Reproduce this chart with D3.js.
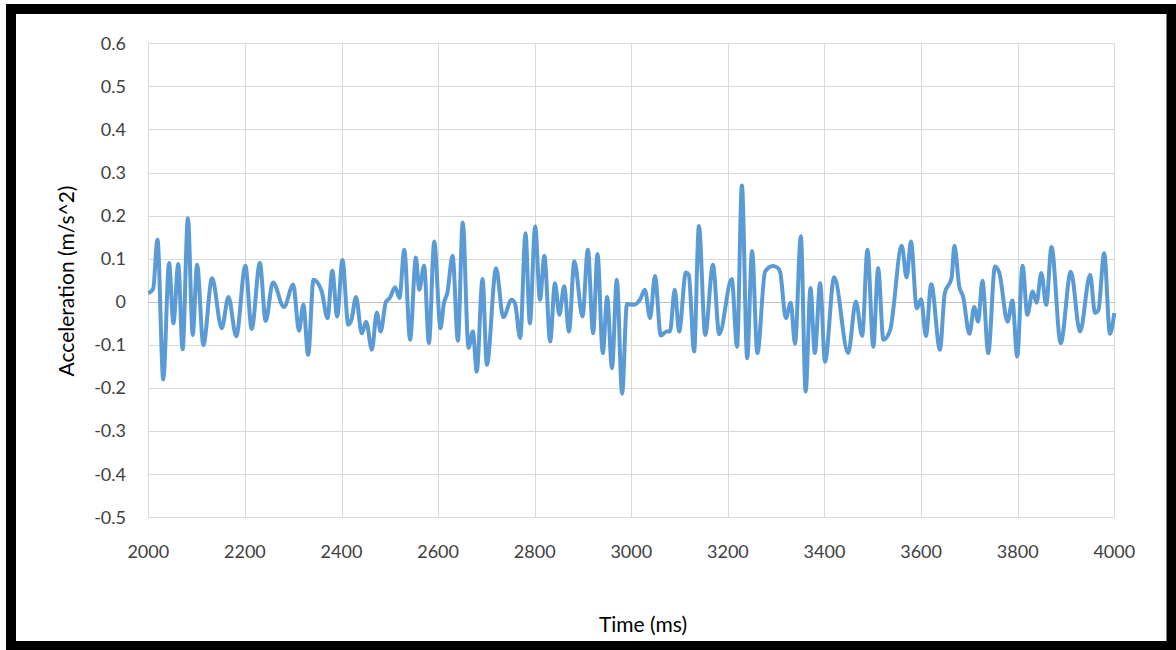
<!DOCTYPE html>
<html>
  <head>
    <meta charset="utf-8">
    <script src="https://d3js.org/d3.v7.min.js"></script>
    <style>
      body { margin: 0; background: #fff; }
      text { font-family: Lato, "Open Sans", sans-serif; fill: #404040; }
    </style>
  </head>
<body>
  <script>
    // time axis (ms) and acceleration (m/s^2)
    var times = [2000, 2010, 2019, 2031, 2043, 2052, 2062, 2071, 2082, 2092, 2101, 2114, 2132, 2152, 2166, 2182, 2201, 2214, 2231, 2243,
      2258, 2281, 2300, 2312, 2321, 2331, 2342, 2359, 2371, 2381, 2391, 2402, 2414, 2421, 2430, 2442, 2451, 2463, 2473, 2481,
      2492, 2500, 2511, 2520, 2530, 2542, 2554, 2561, 2571, 2581, 2592, 2605, 2612, 2619, 2630, 2641, 2651, 2663, 2672, 2680,
      2692, 2701, 2720, 2735, 2752, 2759, 2770, 2781, 2790, 2801, 2811, 2820, 2832, 2842, 2851, 2861, 2871, 2882, 2899, 2910,
      2921, 2930, 2941, 2950, 2960, 2970, 2981, 2991, 3004, 3018, 3028, 3039, 3049, 3061, 3073, 3080, 3090, 3099, 3113, 3119,
      3130, 3140, 3153, 3169, 3182, 3208, 3219, 3229, 3240, 3250, 3261, 3277, 3293, 3302, 3308, 3320, 3330, 3339, 3351, 3361,
      3371, 3380, 3391, 3401, 3420, 3449, 3465, 3478, 3489, 3501, 3511, 3522, 3536, 3560, 3570, 3579, 3591, 3600, 3610, 3621,
      3639, 3649, 3663, 3669, 3679, 3687, 3700, 3710, 3718, 3727, 3739, 3753, 3762, 3779, 3789, 3799, 3810, 3820, 3831, 3839,
      3849, 3859, 3870, 3889, 3910, 3929, 3950, 3960, 3967, 3979, 3991, 4000];
    var accel = [0.02, 0.03, 0.144, -0.18, 0.09, -0.05, 0.088, -0.11, 0.194, -0.077, 0.086, -0.1, 0.055, -0.061, 0.011, -0.08, 0.084, -0.063, 0.09, -0.044,
      0.045, -0.012, 0.04, -0.067, -0.007, -0.123, 0.051, 0.024, -0.038, 0.072, -0.034, 0.097, -0.053, -0.04, 0.011, -0.073, -0.046, -0.111, -0.025, -0.069,
      0.0, 0.009, 0.034, 0.009, 0.121, -0.088, 0.103, 0.028, 0.084, -0.096, 0.14, -0.061, -0.003, 0.02, 0.107, -0.09, 0.184, -0.107, -0.069, -0.162,
      0.053, -0.146, 0.078, -0.036, 0.005, -0.003, -0.084, 0.159, -0.05, 0.175, 0.005, 0.107, -0.092, 0.043, -0.03, 0.036, -0.069, 0.094, -0.034, 0.121,
      -0.073, 0.111, -0.119, 0.011, -0.154, 0.051, -0.213, -0.005, -0.007, 0.005, 0.028, -0.038, 0.06, -0.078, -0.069, -0.069, 0.028, -0.069, 0.068, 0.063,
      -0.115, 0.176, -0.077, 0.086, -0.075, 0.053, -0.104, 0.27, -0.131, 0.118, -0.119, 0.07, 0.083, 0.08, 0.07, -0.038, -0.002, -0.097, 0.152, -0.208,
      0.032, -0.119, 0.043, -0.139, 0.057, -0.119, 0.001, -0.079, 0.121, -0.104, 0.078, -0.088, -0.065, 0.13, 0.057, 0.14, -0.015, 0.006, -0.079, 0.041,
      -0.111, 0.02, 0.055, 0.13, 0.036, 0.012, -0.074, -0.012, -0.046, 0.049, -0.119, 0.082, 0.067, -0.046, 0.003, -0.127, 0.084, -0.03, 0.024, -0.002,
      0.067, -0.007, 0.127, -0.096, 0.07, -0.069, 0.063, -0.026, -0.02, 0.113, -0.074, -0.026];
    var xTicks = [2000, 2200, 2400, 2600, 2800, 3000, 3200, 3400, 3600, 3800, 4000];
    var yTicks = [0.6, 0.5, 0.4, 0.3, 0.2, 0.1, 0, -0.1, -0.2, -0.3, -0.4, -0.5];

    var width = 1176, height = 650;
    var plotLeft = 148.3, plotRight = 1114.3, plotTop = 43.3, plotBottom = 517.3;

    var svg = d3.select("body").append("svg")
        .attr("width", width)
        .attr("height", height);

    var x = d3.scaleLinear().domain([2000, 4000]).range([plotLeft, plotRight]);
    var y = d3.scaleLinear().domain([-0.5, 0.6]).range([plotBottom, plotTop]);

    // gridlines
    svg.append("g").selectAll("line")
        .data(yTicks.filter(function (d) { return d !== 0; }))
        .enter().append("line")
          .attr("x1", plotLeft).attr("x2", plotRight)
          .attr("y1", function (d) { return Math.round(y(d)) + 0.5; })
          .attr("y2", function (d) { return Math.round(y(d)) + 0.5; })
          .attr("stroke", "#d9d9d9").attr("stroke-width", 1);
    svg.append("g").selectAll("line")
        .data(xTicks)
        .enter().append("line")
          .attr("y1", plotTop).attr("y2", plotBottom)
          .attr("x1", function (d) { return Math.round(x(d)) + 0.5; })
          .attr("x2", function (d) { return Math.round(x(d)) + 0.5; })
          .attr("stroke", "#d9d9d9").attr("stroke-width", 1);
    // zero axis line
    svg.append("line")
        .attr("x1", plotLeft).attr("x2", plotRight)
        .attr("y1", Math.round(y(0)) + 0.5).attr("y2", Math.round(y(0)) + 0.5)
        .attr("stroke", "#bfbfbf").attr("stroke-width", 1);

    // tick labels (plain hyphen for negatives, like the original)
    svg.append("g").selectAll("text")
        .data(yTicks)
        .enter().append("text")
          .attr("x", 126)
          .attr("y", function (d) { return y(d); })
          .attr("dy", "0.35em")
          .attr("text-anchor", "end")
          .style("font-size", "18px")
          .text(function (d) { return d === 0 ? "0" : d.toFixed(1); });
    svg.append("g").selectAll("text")
        .data(xTicks)
        .enter().append("text")
          .attr("x", function (d) { return x(d); })
          .attr("y", 558)
          .attr("text-anchor", "middle")
          .style("font-size", "18px")
          .text(function (d) { return d; });

    // axis titles
    svg.append("text")
        .attr("x", 643).attr("y", 632)
        .attr("text-anchor", "middle")
        .style("font-size", "21px")
        .style("fill", "#000")
        .text("Time (ms)");
    svg.append("text")
        .attr("transform", "translate(74,281) rotate(-90)")
        .attr("text-anchor", "middle")
        .style("font-size", "21px")
        .style("fill", "#000")
        .text("Acceleration (m/s^2)");

    // the series
    var pts = times.map(function (t, i) { return [t, accel[i]]; });
    var line = d3.line()
        .x(function (d) { return x(d[0]); })
        .y(function (d) { return y(d[1]); })
        .curve(d3.curveMonotoneX);
    svg.append("path")
        .datum(pts)
        .attr("d", line)
        .attr("fill", "none")
        .attr("stroke", "#5b9bd5")
        .attr("stroke-width", 4)
        .attr("stroke-linejoin", "round");

    // black frame
    svg.append("rect")
        .attr("x", 11).attr("y", 9)
        .attr("width", 1160.5).attr("height", 637)
        .attr("fill", "none")
        .attr("stroke", "#000")
        .attr("stroke-width", 10);
  </script>
</body>
</html>
